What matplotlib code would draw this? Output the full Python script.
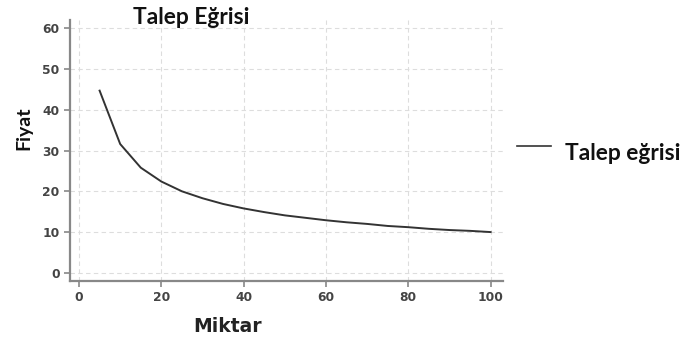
import matplotlib
matplotlib.use("Agg")
import matplotlib.pyplot as plt
from matplotlib.lines import Line2D

quantity = [5, 10, 15, 20, 25, 30, 35, 40, 45, 50, 55, 60, 65, 70, 75, 80, 85, 90, 95, 100]
price = [44.7, 31.6, 25.8, 22.4, 20.0, 18.3, 16.9, 15.8, 14.9, 14.1,
         13.5, 12.9, 12.4, 12.0, 11.5, 11.2, 10.8, 10.5, 10.3, 10.0]
xticks = [0, 20, 40, 60, 80, 100]
yticks = [0, 10, 20, 30, 40, 50, 60]

W, H = 684, 341
fig = plt.figure(figsize=(6.84, 3.41), dpi=100)
ax = fig.add_axes([0.1023, 0.176, 0.633, 0.765])
ax.plot(quantity, price, color="#333333", lw=1.4)
ax.set_xlim(-2.2, 103)
ax.set_ylim(-2, 62)
ax.set_xticks(xticks)
ax.set_yticks(yticks)
ax.grid(True, color="#dddddd", ls=(0, (4, 3)), lw=0.8)
for s in ["top", "right"]:
    ax.spines[s].set_visible(False)
for s in ["left", "bottom"]:
    ax.spines[s].set_color("#888888")
    ax.spines[s].set_linewidth(1.6)
ax.tick_params(direction="out", length=4, width=1.2, color="#888888",
               labelsize=8.8, labelcolor="#444444")
for lbl in ax.get_xticklabels() + ax.get_yticklabels():
    lbl.set_fontfamily("DejaVu Sans")
    lbl.set_fontweight("bold")

fam = ["Lato", "DejaVu Sans"]
fig.text(191 / W, 1 - 18 / H, "Talep Eğrisi", ha="center", va="center",
         fontsize=16.4, fontweight="bold", family=fam, color="#111111")
fig.text(24 / W, 1 - 128 / H, "Fiyat", rotation=90, ha="center", va="center",
         fontsize=14, fontweight="bold", family=fam, color="#111111")
fig.text(228 / W, 1 - 326 / H, "Miktar", ha="center", va="center",
         fontsize=13.5, fontweight="bold", family=["DejaVu Sans"], color="#222222")

fig.add_artist(Line2D([517 / W, 551 / W], [1 - 146 / H, 1 - 146 / H],
                      color="#333333", lw=1.2, transform=fig.transFigure))
fig.text(565 / W, 1 - 153 / H, "Talep eğrisi", ha="left", va="center",
         fontsize=16.4, fontweight="bold", family=fam, color="#111111")

fig.savefig("out.png", dpi=100)
